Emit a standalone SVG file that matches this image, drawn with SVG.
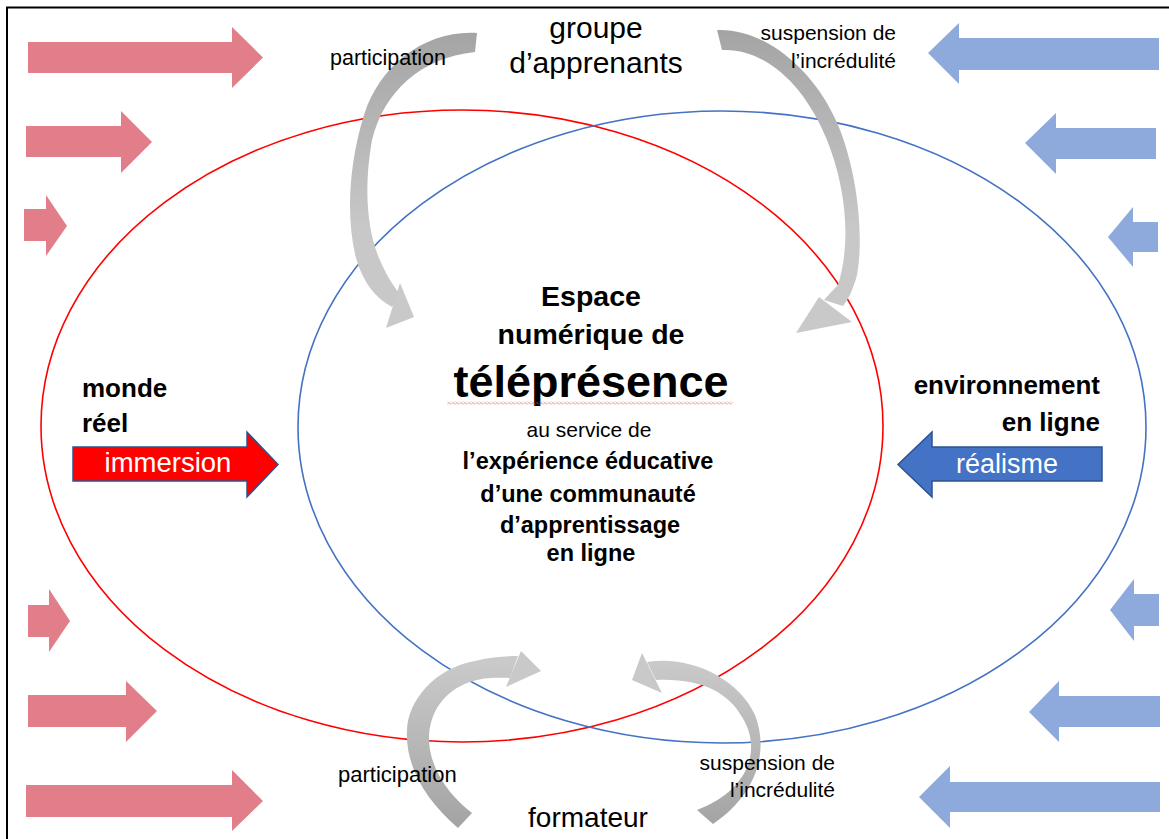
<svg xmlns="http://www.w3.org/2000/svg" width="1169" height="839" viewBox="0 0 1169 839">
<defs>
<style>
.t{font-family:"Liberation Sans",Arial,sans-serif;fill:#000}
.b{font-weight:bold}
.w{fill:#fff}
.pink{fill:#E17E8A}
.blue{fill:#8EA9DB}
.ell{fill:none;stroke-width:1.6}
.head{fill:#C9C9C9}
</style>
<linearGradient id="gTop" gradientUnits="userSpaceOnUse" x1="0" y1="30" x2="0" y2="230">
<stop offset="0" stop-color="#A4A4A4"/><stop offset="1" stop-color="#C8C8C8"/>
</linearGradient>
<linearGradient id="gBot" gradientUnits="userSpaceOnUse" x1="0" y1="825" x2="0" y2="660">
<stop offset="0" stop-color="#A4A4A4"/><stop offset="1" stop-color="#CACACA"/>
</linearGradient>
<pattern id="sq" width="4" height="3" patternUnits="userSpaceOnUse">
<path d="M0,1.5 L1,0.5 L3,2.5 L4,1.5" stroke="#E05A5A" stroke-width="0.8" fill="none"/>
</pattern>
</defs>
<rect width="1169" height="839" fill="#fff"/>
<rect id="frame" x="7" y="7.5" width="1200" height="900" fill="none" stroke="#000" stroke-width="2"/>

<g id="flux-gauche">
<polygon class="pink" points="28,42 232,42 232,27 263,57.5 232,88 232,73 28,73"/>
<polygon class="pink" points="26,126 121,126 121,111 152,142 121,173 121,157 26,157"/>
<polygon class="pink" points="24,209 46,209 46,195 67,226 46,256 46,241 24,241"/>
<polygon class="pink" points="28,605 49,605 49,589 70,621 49,652 49,637 28,637"/>
<polygon class="pink" points="28,695 126,695 126,681 157,711 126,742 126,727 28,727"/>
<polygon class="pink" points="26,785 232,785 232,770 263,801 232,831 232,817 26,817"/>
</g>
<g id="flux-droite">
<polygon class="blue" points="1159,38 959,38 959,23 928,53 959,84 959,70 1159,70"/>
<polygon class="blue" points="1156,128 1056,128 1056,113 1025,143 1056,174 1056,159 1156,159"/>
<polygon class="blue" points="1158,222 1133,222 1133,207 1108,237 1133,267 1133,252 1158,252"/>
<polygon class="blue" points="1159,594 1134,594 1134,579 1110,610 1134,641 1134,626 1159,626"/>
<polygon class="blue" points="1160,696 1059,696 1059,681 1029,712 1059,742 1059,727 1160,727"/>
<polygon class="blue" points="1160,782 950,782 950,766 919,797 950,828 950,812 1160,812"/>
</g>

<g id="monde-reel">
<ellipse class="ell" cx="462" cy="426" rx="421" ry="316" stroke="#FF0000"/>
<text class="t b" x="82" y="397" font-size="26">monde</text>
<text class="t b" x="82" y="432" font-size="26">réel</text>
</g>
<g id="environnement-en-ligne">
<ellipse class="ell" cx="722" cy="427" rx="424" ry="316" stroke="#4472C4"/>
<text class="t b" x="1100" y="394" font-size="26" text-anchor="end">environnement</text>
<text class="t b" x="1100" y="431" font-size="26" text-anchor="end">en ligne</text>
</g>

<g id="connecteurs">
<g id="immersion">
<polygon points="73,447 247,447 247,432 278,464.5 247,497 247,481 73,481" fill="#FF0000" stroke="#2F528F" stroke-width="1.5"/>
<text class="t w" x="168" y="472" font-size="27.5" text-anchor="middle">immersion</text>
</g>
<g id="realisme">
<polygon points="1102,447 932,447 932,432 898,464.5 932,497 932,481 1102,481" fill="#4472C4" stroke="#2F528F" stroke-width="1.5"/>
<text class="t w" x="1007" y="473" font-size="27" text-anchor="middle">réalisme</text>
</g>
<g id="participation-haut">
<path d="M477,33 C425,30 380,65 364,115 C350,160 345,215 356,258 C363,282 375,298 392,307 L400,294 C392,285 385,272 379,258 C368,232 363,190 372,140 C384,92 420,58 475,52 Z" fill="url(#gTop)"/>
<polygon class="head" points="400,283 414,317 386,328"/>
</g>
<g id="suspension-haut">
<path d="M717,30 C765,28 815,70 838,125 C855,165 865,230 857,275 C853,290 848,300 843,306 L824,300 C831,292 835,288 838,285 C852,240 845,185 827,140 C805,85 765,48 722,50 Z" fill="url(#gTop)"/>
<polygon class="head" points="819,297 852,322 796,333"/>
</g>
<g id="participation-bas">
<path d="M458,828 C425,800 405,765 407,730 C408,700 435,670 470,662 C490,657 505,656 518,656 L510,678 C495,677 480,678 470,682 C440,692 425,720 430,750 C435,778 455,800 472,813 Z" fill="url(#gBot)"/>
<polygon class="head" points="521,651 541,671 506,687"/>
</g>
<g id="suspension-bas">
<path d="M647,662 C690,655 738,678 755,715 C768,748 760,792 713,824 L697,810 C750,790 762,748 742,717 C728,692 700,678 656,680 Z" fill="url(#gBot)"/>
<polygon class="head" points="642,653 662,693 632,680"/>
</g>
<text class="t" x="330" y="65" font-size="21.5">participation</text>
<text class="t" x="896" y="40" font-size="21" text-anchor="end">suspension de</text>
<text class="t" x="896" y="68" font-size="21" text-anchor="end">l’incrédulité</text>
<text class="t" x="338" y="782" font-size="22">participation</text>
<text class="t" x="835" y="770" font-size="21" text-anchor="end">suspension de</text>
<text class="t" x="835" y="797" font-size="21" text-anchor="end">l’incrédulité</text>
</g>

<g id="groupe-apprenants">
<text class="t" x="596" y="38" font-size="30" text-anchor="middle">groupe</text>
<text class="t" x="596" y="73" font-size="30" text-anchor="middle">d’apprenants</text>
</g>
<g id="formateur">
<text class="t" x="588" y="827" font-size="28" text-anchor="middle">formateur</text>
</g>

<g id="telepresence">
<text class="t b" x="591" y="306" font-size="28.5" text-anchor="middle">Espace</text>
<text class="t b" x="591" y="344" font-size="28.5" text-anchor="middle">numérique de</text>
<text class="t b" x="591" y="397" font-size="45" text-anchor="middle">téléprésence</text>
<rect x="447" y="401.5" width="286" height="3" fill="url(#sq)"/>
<text class="t" x="589" y="437" font-size="21" text-anchor="middle">au service de</text>
<text class="t b" x="588" y="469" font-size="23.5" text-anchor="middle">l’expérience éducative</text>
<text class="t b" x="588" y="502" font-size="23.5" text-anchor="middle">d’une communauté</text>
<text class="t b" x="590" y="533" font-size="23.5" text-anchor="middle">d’apprentissage</text>
<text class="t b" x="591" y="561" font-size="23.5" text-anchor="middle">en ligne</text>
</g>
</svg>
